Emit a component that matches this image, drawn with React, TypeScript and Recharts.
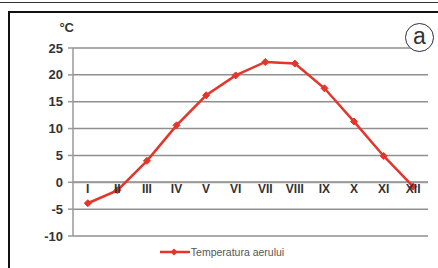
import React from "react";
import {
  LineChart,
  Line,
  XAxis,
  YAxis,
  CartesianGrid,
  ReferenceLine,
  ReferenceDot,
  Legend,
} from "recharts";

const months = ["I", "II", "III", "IV", "V", "VI", "VII", "VIII", "IX", "X", "XI", "XII"];
const temperature = [-3.9, -1.5, 4.0, 10.6, 16.2, 19.9, 22.4, 22.1, 17.5, 11.3, 4.9, -0.8];
const yTicks = [-10, -5, 0, 5, 10, 15, 20, 25];
const seriesName = "Temperatura aerului";

const RED = "#e5352a";

const data = months.map((month, i) => ({ month, temp: temperature[i] }));

const Diamond = ({ cx, cy }: { cx?: number; cy?: number }) => {
  if (cx == null || cy == null) return null;
  const s = 3.5;
  return (
    <polygon
      points={`${cx},${cy - s} ${cx + s},${cy} ${cx},${cy + s} ${cx - s},${cy}`}
      fill={RED}
      stroke={RED}
    />
  );
};

const renderLegend = () => (
  <div
    style={{
      display: "flex",
      alignItems: "center",
      justifyContent: "center",
      fontFamily: "Arial, 'Liberation Sans', sans-serif",
      fontSize: 10.5,
      color: "#555",
      paddingLeft: 6,
    }}
  >
    <svg width={30} height={10} style={{ marginRight: 1 }}>
      <line x1={0} y1={5} x2={30} y2={5} stroke={RED} strokeWidth={2.5} />
      <polygon points="14,1.5 17.5,5 14,8.5 10.5,5" fill={RED} />
    </svg>
    <span>{seriesName}</span>
  </div>
);

export default function App() {
  return (
    <div
      style={{
        position: "absolute",
        left: 0,
        top: 0,
        width: 438,
        height: 268,
        background: "#fff",
        overflow: "hidden",
        fontFamily: "Arial, 'Liberation Sans', sans-serif",
      }}
    >
      {/* frame */}
      <div style={{ position: "absolute", left: 0, top: 2, width: 438, height: 1, background: "#333" }} />
      <div style={{ position: "absolute", left: 8, top: 11, width: 430, height: 2, background: "#111" }} />
      <div style={{ position: "absolute", left: 8, top: 11, width: 2, height: 257, background: "#111" }} />

      <div
        style={{
          position: "absolute",
          left: 40,
          top: 20,
          width: 34,
          textAlign: "right",
          fontSize: 13,
          fontWeight: "bold",
          color: "#333",
        }}
      >
        °C
      </div>

      <div style={{ position: "absolute", left: 0, top: 0 }}>
        <LineChart
          width={438}
          height={268}
          data={data}
          margin={{ top: 48, right: 10, bottom: 32, left: 0 }}
        >
          <CartesianGrid vertical={false} stroke="#8f8f8f" strokeWidth={1.5} />
          <XAxis dataKey="month" scale="band" hide />
          <YAxis
            domain={[-10, 25]}
            ticks={yTicks}
            interval={0}
            width={73}
            axisLine={{ stroke: "#999", strokeWidth: 1.5 }}
            tickLine={{ stroke: "#999", strokeWidth: 1.5 }}
            tickSize={5}
            tickMargin={5}
            tick={{ fontSize: 13, fontWeight: "bold", fill: "#333" }}
          />
          <ReferenceLine y={0} stroke="#9a9a9a" strokeWidth={2} />
          {months.map((m) => (
            <ReferenceDot
              key={m}
              x={m}
              y={0}
              r={0}
              fill="none"
              stroke="none"
              label={{
                value: m,
                position: "bottom",
                offset: 2,
                fontSize: 12,
                fontWeight: "bold",
                fill: "#333",
              }}
            />
          ))}
          <Legend
            layout="horizontal"
            verticalAlign="middle"
            align="center"
            content={renderLegend}
            wrapperStyle={{ top: 246, left: 0, width: 438 }}
          />
          <Line
            type="linear"
            dataKey="temp"
            name={seriesName}
            stroke={RED}
            strokeWidth={2.5}
            dot={<Diamond />}
            activeDot={false}
            isAnimationActive={false}
          />
        </LineChart>
      </div>

      {/* circled label */}
      <div
        style={{
          position: "absolute",
          left: 405,
          top: 23,
          width: 29,
          height: 29,
          borderRadius: "50%",
          border: "1.5px solid #2a2f45",
          background: "#fff",
          display: "flex",
          alignItems: "center",
          justifyContent: "center",
          fontSize: 23,
          color: "#333",
          lineHeight: 1,
          paddingBottom: 3,
          boxSizing: "border-box",
        }}
      >
        a
      </div>
    </div>
  );
}
